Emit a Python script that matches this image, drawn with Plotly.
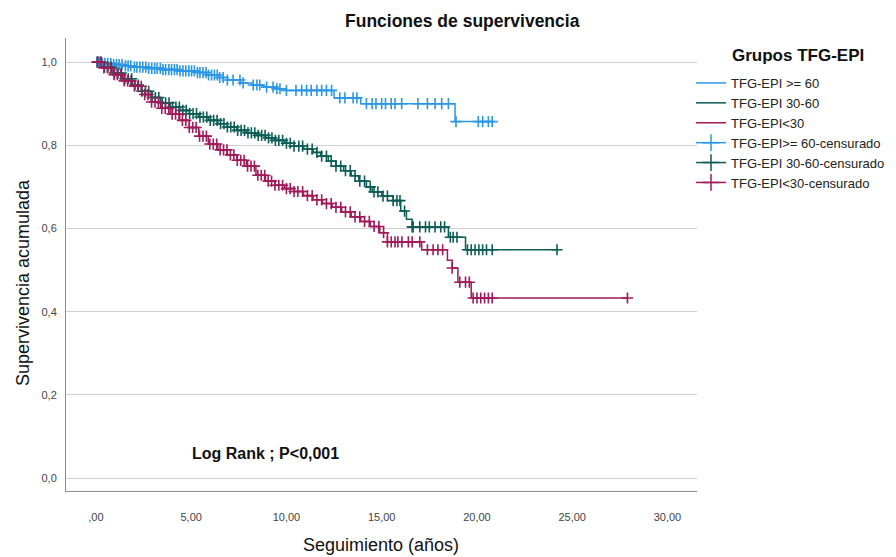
import plotly.graph_objects as go

# ---------------- data ----------------
groups = ["TFG-EPI >= 60", "TFG-EPI 30-60", "TFG-EPI<30"]
censor_names = ["TFG-EPI>= 60-censurado", "TFG-EPI 30-60-censurado", "TFG-EPI<30-censurado"]
colors = ["#2b97e6", "#0c5d56", "#a11a59"]

# Kaplan-Meier step points (time in years, cumulative survival)
t_hi = [0, 0.3, 0.8, 1.4, 2.0, 2.7, 3.5, 4.3, 5.3, 5.8, 6.4, 6.9, 7.6, 8.2, 8.8, 9.4, 10.0, 12.5, 13.9, 18.85]
s_hi = [1.0, 0.997, 0.994, 0.991, 0.988, 0.985, 0.982, 0.979, 0.975, 0.969, 0.963, 0.957, 0.950, 0.945, 0.940, 0.936, 0.932, 0.914, 0.900, 0.857]
end_hi = 20.8

t_mid = [0, 0.4, 0.9, 1.4, 1.9, 2.4, 2.9, 3.4, 3.9, 4.4, 4.9, 5.4, 5.9, 6.4, 6.9, 7.4, 7.9, 8.4, 8.9, 9.4,
         9.9, 10.4, 10.9, 11.4, 11.8, 12.2, 12.6, 13.0, 13.4, 13.8, 14.2, 14.5, 15.0, 15.6, 16.0, 16.3, 16.6, 18.5, 19.4]
s_mid = [1.0, 0.988, 0.974, 0.960, 0.945, 0.930, 0.915, 0.902, 0.892, 0.884, 0.876, 0.868, 0.860, 0.852, 0.844,
         0.836, 0.830, 0.824, 0.818, 0.812, 0.805, 0.798, 0.791, 0.783, 0.774, 0.762, 0.750, 0.739, 0.727, 0.714,
         0.700, 0.688, 0.678, 0.667, 0.642, 0.622, 0.604, 0.579, 0.549]
end_mid = 24.2

t_lo = [0, 0.4, 0.9, 1.4, 1.9, 2.4, 2.9, 3.4, 3.9, 4.4, 4.9, 5.4, 5.9, 6.4, 6.9, 7.4, 7.9, 8.4, 8.9, 9.4,
        9.9, 10.4, 10.9, 11.4, 11.9, 12.4, 12.9, 13.4, 13.9, 14.4, 14.9, 15.3, 17.1, 18.45, 18.7, 19.0, 19.7]
s_lo = [1.0, 0.986, 0.970, 0.955, 0.942, 0.922, 0.904, 0.889, 0.875, 0.860, 0.843, 0.822, 0.803, 0.789, 0.777,
        0.764, 0.750, 0.728, 0.714, 0.704, 0.696, 0.689, 0.679, 0.669, 0.660, 0.651, 0.640, 0.628, 0.617, 0.605,
        0.590, 0.568, 0.549, 0.524, 0.505, 0.471, 0.433]
end_lo = 27.9

# censored observations (time in years)
c_hi = [0.05, 0.18, 0.33, 0.47, 0.62, 0.78, 0.93, 1.08, 1.22, 1.37, 1.55, 1.69, 1.83, 2.02, 2.15, 2.31, 2.46,
        2.62, 2.77, 2.93, 3.08, 3.21, 3.38, 3.52, 3.66, 3.83, 3.97, 4.12, 4.26, 4.41, 4.57, 4.72, 4.88, 5.02,
        5.17, 5.33, 5.46, 5.62, 5.78, 5.91, 6.07, 6.22, 6.37, 6.5, 6.68, 6.9, 7.2, 7.56, 7.73, 8.26, 8.45, 8.6,
        8.96, 9.3, 9.5, 9.66, 10.0, 10.5, 10.8, 11.06, 11.3, 11.6, 11.85, 12.1, 12.37, 12.8, 13.07, 13.5, 13.7,
        14.2, 14.5, 14.7, 15.0, 15.2, 15.5, 15.7, 16.05, 16.9, 17.4, 17.8, 18.15, 18.5, 18.9, 20.07, 20.3, 20.6, 20.8]
c_mid = [0.1, 0.27, 0.45, 0.63, 0.8, 0.98, 1.16, 1.33, 1.52, 1.7, 1.88, 2.05, 2.23, 2.41, 2.6, 2.77, 2.95,
         3.12, 3.3, 3.48, 3.66, 3.84, 4.02, 4.2, 4.38, 4.56, 4.74, 4.92, 5.1, 5.28, 5.46, 5.64, 5.82, 6.0,
         6.18, 6.36, 6.54, 6.72, 6.9, 7.08, 7.26, 7.44, 7.62, 7.8, 7.98, 8.16, 8.34, 8.52, 8.7, 8.88, 9.06,
         9.24, 9.42, 9.6, 9.8, 10.0, 10.2, 10.4, 10.65, 10.85, 11.1, 11.35, 11.6, 11.85, 12.1, 12.35, 12.6,
         12.85, 13.1, 13.35, 13.6, 13.85, 14.1, 14.4, 14.6, 14.8, 15.07, 15.3, 15.6, 15.8, 15.96, 16.2, 16.6,
         16.65, 17.0, 17.3, 17.5, 17.8, 18.1, 18.3, 18.6, 18.75, 18.95, 19.5, 19.7, 19.9, 20.1, 20.3, 20.5,
         20.8, 24.2]
c_lo = [0.08, 0.25, 0.42, 0.6, 0.77, 0.95, 1.12, 1.3, 1.48, 1.66, 1.84, 2.02, 2.2, 2.38, 2.56, 2.74, 2.92,
        3.1, 3.28, 3.46, 3.64, 3.82, 4.0, 4.18, 4.36, 4.54, 4.72, 4.9, 5.08, 5.26, 5.44, 5.62, 5.8, 5.98,
        6.16, 6.34, 6.52, 6.7, 6.88, 7.06, 7.24, 7.42, 7.6, 7.78, 7.96, 8.14, 8.32, 8.5, 8.68, 8.86, 9.04,
        9.22, 9.4, 9.6, 9.8, 10.0, 10.2, 10.4, 10.6, 10.85, 11.1, 11.35, 11.6, 11.85, 12.1, 12.35, 12.6,
        12.85, 13.1, 13.35, 13.6, 13.85, 14.1, 14.35, 14.6, 14.85, 15.1, 15.3, 15.5, 15.7, 15.85, 16.06,
        16.4, 16.6, 17.0, 17.4, 17.7, 17.95, 18.2, 18.7, 19.1, 19.4, 19.6, 19.8, 20.0, 20.2, 20.4, 20.6,
        20.8, 27.9]

x_tickvals = [0, 5, 10, 15, 20, 25, 30]
x_ticktext = [",00", "5,00", "10,00", "15,00", "20,00", "25,00", "30,00"]
y_tickvals = [0.0, 0.2, 0.4, 0.6, 0.8, 1.0]
y_ticktext = ["0,0", "0,2", "0,4", "0,6", "0,8", "1,0"]

title_text = "Funciones de supervivencia"
x_title = "Seguimiento (años)"
y_title = "Supervivencia acumulada"
legend_title = "Grupos TFG-EPI"
note_text = "Log Rank ; P<0,001"

# ---------------- helpers ----------------
def surv_at(times, surv, t):
    val = surv[0]
    for ti, si in zip(times, surv):
        if ti <= t:
            val = si
        else:
            break
    return val

FONT = "Liberation Sans, Arial, sans-serif"
W, H = 896, 557
L, R, T, B = 66, 697, 38, 491  # plot area in pixels

def px_x(p):
    return (p - L) / (R - L)

def px_y(p):
    return (B - p) / (B - T)

fig = go.Figure()

steps = [(t_hi, s_hi, end_hi), (t_mid, s_mid, end_mid), (t_lo, s_lo, end_lo)]
censors = [c_hi, c_mid, c_lo]

for (tt, ss, end), name, col in zip(steps, groups, colors):
    fig.add_trace(go.Scatter(
        x=list(tt) + [end], y=list(ss) + [ss[-1]],
        mode="lines", line=dict(color=col, width=1.5, shape="hv"),
        name=name, legendrank=1))

for (tt, ss, end), cens, name, col in zip(steps, censors, censor_names, colors):
    fig.add_trace(go.Scatter(
        x=cens, y=[surv_at(tt, ss, c) for c in cens],
        mode="markers",
        marker=dict(symbol="cross-thin", size=8, line=dict(color=col, width=1.6), color=col),
        showlegend=False, hoverinfo="x+y"))
    # legend entry with line + cross, like the original legend
    fig.add_trace(go.Scatter(
        x=[None], y=[None], mode="lines+markers",
        line=dict(color=col, width=1.5),
        marker=dict(symbol="cross-thin", size=12, line=dict(color=col, width=1.5), color=col),
        name=name, legendrank=2))

fig.update_layout(
    width=W, height=H,
    margin=dict(l=L, r=W - R, t=T, b=H - B, pad=0, autoexpand=False),
    paper_bgcolor="white", plot_bgcolor="white",
    font=dict(family=FONT, size=12, color="#222"),
    showlegend=True,
    legend=dict(
        x=px_x(691), y=px_y(68), xanchor="left", yanchor="top",
        font=dict(size=13, color="#222"),
        tracegroupgap=0, itemwidth=30, bgcolor="rgba(0,0,0,0)",
    ),
    xaxis=dict(
        range=[-1.57, 31.55], tickvals=x_tickvals, ticktext=x_ticktext,
        showgrid=False, zeroline=False, showline=True, linecolor="#8c8c8c", linewidth=1,
        ticks="", tickfont=dict(size=11, color="#444"), ticklabelstandoff=16,
    ),
    yaxis=dict(
        range=[-0.031, 1.058], tickvals=y_tickvals, ticktext=y_ticktext,
        showgrid=True, gridcolor="#cfcfcf", gridwidth=1,
        zeroline=False, showline=True, linecolor="#8c8c8c", linewidth=1,
        ticks="", tickfont=dict(size=11, color="#444"), ticklabelstandoff=6,
    ),
    annotations=[
        dict(text="<b>" + title_text + "</b>", xref="paper", yref="paper",
             x=px_x(462), y=px_y(21), xanchor="center", yanchor="middle",
             showarrow=False, font=dict(size=17.5, color="#111")),
        dict(text="<b>" + legend_title + "</b>", xref="paper", yref="paper",
             x=px_x(798), y=px_y(56), xanchor="center", yanchor="middle",
             showarrow=False, font=dict(size=17, color="#111")),
        dict(text=x_title, xref="paper", yref="paper",
             x=px_x(381), y=px_y(545), xanchor="center", yanchor="middle",
             showarrow=False, font=dict(size=18, color="#111")),
        dict(text=y_title, xref="paper", yref="paper", textangle=-90,
             x=px_x(23), y=px_y(283), xanchor="center", yanchor="middle",
             showarrow=False, font=dict(size=18, color="#111")),
        dict(text="<b>" + note_text + "</b>", xref="paper", yref="paper",
             x=px_x(265), y=px_y(453), xanchor="center", yanchor="middle",
             showarrow=False, font=dict(size=16, color="#111")),
    ],
)

fig.write_html("out.html")
